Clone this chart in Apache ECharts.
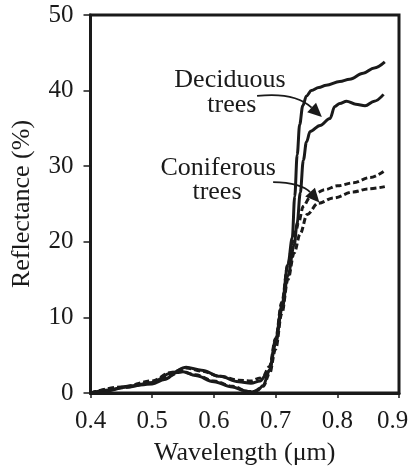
<!DOCTYPE html>
<html>
<head>
<meta charset="utf-8">
<script src="https://cdn.jsdelivr.net/npm/echarts@6/dist/echarts.min.js"></script>
<style>
  html, body { margin: 0; padding: 0; background: #fff; }
  #chart { width: 411px; height: 468px; }
</style>
</head>
<body>
<div id="chart"></div>
<script>
// wavelength (um) / reflectance (%)
const decidUpperX = [0.40, 0.43, 0.46, 0.50, 0.52, 0.54, 0.55, 0.57, 0.60, 0.63, 0.65, 0.66, 0.67, 0.68, 0.69, 0.70, 0.71, 0.72, 0.727, 0.731, 0.735, 0.739, 0.744, 0.75, 0.758, 0.77, 0.782, 0.804, 0.82, 0.842, 0.86, 0.877]
const decidUpperY = [0, 0.4, 0.9, 1.2, 1.8, 2.7, 2.8, 2.3, 1.5, 0.8, 0.3, 0.1, 0.3, 1.0, 3.0, 7.0, 11.5, 17, 20.5, 26, 31.5, 35.5, 38, 39.3, 40, 40.4, 40.7, 41.2, 41.5, 42.3, 43, 43.8]

const decidLowerX = [0.40, 0.42, 0.46, 0.50, 0.53, 0.555, 0.58, 0.61, 0.64, 0.66, 0.675, 0.685, 0.69, 0.70, 0.71, 0.72, 0.73, 0.735, 0.74, 0.745, 0.75, 0.756, 0.772, 0.788, 0.796, 0.804, 0.815, 0.83, 0.845, 0.86, 0.875]
const decidLowerY = [0, 0.2, 0.8, 1.4, 2.6, 3.4, 3.0, 2.2, 1.5, 1.3, 1.6, 2.4, 3.0, 6.5, 11, 15.5, 19.5, 22.5, 26.5, 30.8, 33.2, 34.6, 35.4, 36.3, 37.9, 38.3, 38.6, 38.2, 38.0, 38.6, 39.5]

const coniferUpperX = [0.40, 0.45, 0.50, 0.53, 0.555, 0.58, 0.61, 0.64, 0.66, 0.675, 0.68, 0.69, 0.70, 0.71, 0.72, 0.728, 0.733, 0.737, 0.745, 0.755, 0.764, 0.78, 0.80, 0.826, 0.853, 0.875]
const coniferUpperY = [0, 0.8, 1.6, 2.7, 3.3, 2.9, 2.2, 1.7, 1.6, 2.0, 2.3, 3.5, 7.2, 12, 17, 20, 21.5, 22.5, 24.7, 25.8, 26.4, 26.9, 27.4, 27.8, 28.5, 29.3]

const coniferLowerX = [0.40, 0.45, 0.50, 0.53, 0.545, 0.57, 0.60, 0.63, 0.655, 0.665, 0.68, 0.69, 0.70, 0.71, 0.72, 0.73, 0.74, 0.751, 0.769, 0.794, 0.826, 0.85, 0.877]
const coniferLowerY = [0, 0.7, 1.4, 2.3, 2.9, 2.4, 1.6, 0.9, 0.2, 0.2, 0.9, 2.5, 5.8, 10.5, 15, 18.5, 21.1, 23.6, 25.1, 25.8, 26.6, 27.0, 27.3]

const xTicks = [0.4, 0.5, 0.6, 0.7, 0.8, 0.9]
const yTicks = [0, 10, 20, 30, 40, 50]

const FONT = '"Liberation Serif", "DejaVu Serif", serif'
const INK = '#1a1a1a'

const pairs = (xs, ys) => xs.map((x, i) => [x, ys[i]])

const lineSeries = (name, xs, ys, dashed) => ({
  name,
  type: 'line',
  data: pairs(xs, ys),
  showSymbol: false,
  smooth: 0.35,
  smoothMonotone: 'x',
  lineStyle: { color: INK, width: 3, type: dashed ? [6, 3] : 'solid' },
  silent: true
})

const xMax = xTicks[xTicks.length - 1]

const chart = echarts.init(document.getElementById('chart'))

chart.setOption({
  animation: false,
  backgroundColor: '#fff',
  grid: {
    left: 90.5, right: 12, top: 15, bottom: 75,
    outerBoundsMode: 'none',
    show: true, borderColor: INK, borderWidth: 3
  },
  xAxis: {
    type: 'value',
    min: xTicks[0], max: xMax, interval: 0.1,
    name: 'Wavelength (\u03bcm)',
    nameLocation: 'middle', nameGap: 47,
    nameTextStyle: { fontFamily: FONT, fontSize: 26, color: INK },
    axisLine: { lineStyle: { color: INK, width: 3 } },
    axisTick: { length: 5, lineStyle: { color: INK, width: 1.5 } },
    axisLabel: {
      margin: 16, fontFamily: FONT, fontSize: 25, color: INK,
      // last label sits a little left of its tick, as in the original
      formatter: v => Math.abs(v - xMax) < 1e-6 ? '{edge|' + v.toFixed(1) + '}' : v.toFixed(1),
      rich: { edge: { fontFamily: FONT, fontSize: 25, color: INK, padding: [0, 13, 0, 0] } }
    },
    splitLine: { show: false }
  },
  yAxis: {
    type: 'value',
    min: yTicks[0], max: yTicks[yTicks.length - 1], interval: 10,
    name: 'Reflectance (%)',
    nameLocation: 'middle', nameGap: 55,
    nameTextStyle: { fontFamily: FONT, fontSize: 26, color: INK },
    axisLine: { show: true, lineStyle: { color: INK, width: 3 } },
    axisTick: { show: true, length: 7, lineStyle: { color: INK, width: 1.5 } },
    axisLabel: { margin: 17, fontFamily: FONT, fontSize: 25, color: INK },
    splitLine: { show: false }
  },
  series: [
    lineSeries('Deciduous upper', decidUpperX, decidUpperY, false),
    lineSeries('Deciduous lower', decidLowerX, decidLowerY, false),
    lineSeries('Coniferous upper', coniferUpperX, coniferUpperY, true),
    lineSeries('Coniferous lower', coniferLowerX, coniferLowerY, true)
  ]
})

// annotations: labels and curved arrows, placed in data units
const px = p => chart.convertToPixel({ gridIndex: 0 }, p)

const label = (text, at) => {
  const [x, y] = px(at)
  return {
    type: 'text', x, y, silent: true,
    style: { text, font: '26px ' + FONT, fill: INK, align: 'center', verticalAlign: 'middle' }
  }
}

const arrow = (start, c1, c2, tip) => {
  const s = px(start), a = px(c1), b = px(c2), t = px(tip)
  const dx = t[0] - b[0], dy = t[1] - b[1]
  const len = Math.hypot(dx, dy)
  const ux = dx / len, uy = dy / len
  const headLen = 14, halfW = 6.5
  const bx = t[0] - ux * headLen, by = t[1] - uy * headLen
  return [
    {
      type: 'bezierCurve', silent: true,
      shape: { x1: s[0], y1: s[1], cpx1: a[0], cpy1: a[1], cpx2: b[0], cpy2: b[1], x2: bx, y2: by },
      style: { stroke: INK, lineWidth: 1.8, fill: null }
    },
    {
      type: 'polygon', silent: true,
      shape: { points: [t, [bx - uy * halfW, by + ux * halfW], [bx + uy * halfW, by - ux * halfW]] },
      style: { fill: INK }
    }
  ]
}

chart.setOption({
  graphic: [
    label('Deciduous', [0.626, 41.4]),
    label('trees', [0.629, 38.1]),
    label('Coniferous', [0.607, 29.8]),
    label('trees', [0.605, 26.6]),
    ...arrow([0.670, 39.3], [0.715, 39.7], [0.742, 39.0], [0.775, 36.5]),
    ...arrow([0.696, 27.9], [0.727, 27.9], [0.748, 27.3], [0.771, 25.2])
  ]
})
</script>
</body>
</html>
